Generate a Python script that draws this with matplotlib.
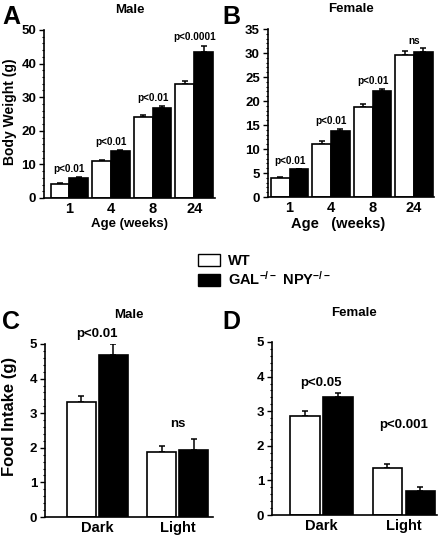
import matplotlib
matplotlib.use("Agg")
import matplotlib.pyplot as plt
from matplotlib.patches import Patch
from matplotlib.ticker import MultipleLocator
import numpy as np

plt.rcParams['font.family'] = ['Liberation Sans', 'DejaVu Sans']
plt.rcParams['font.weight'] = 'bold'
plt.rcParams['mathtext.fontset'] = 'custom'
plt.rcParams['mathtext.rm'] = 'Liberation Sans:bold'
plt.rcParams['mathtext.bf'] = 'Liberation Sans:bold'
plt.rcParams['mathtext.default'] = 'bf'

# ---- data ----
weeks = ['1', '4', '8', '24']
male_wt = [4.1, 11.0, 24.2, 33.9]
male_wt_err = [0.3, 0.4, 0.4, 1.0]
male_ko = [6.0, 14.0, 26.8, 43.6]
male_ko_err = [0.3, 0.4, 0.7, 1.6]
male_p = ['p<0.01', 'p<0.01', 'p<0.01', 'p<0.0001']

female_wt = [3.95, 11.0, 18.7, 29.65]
female_wt_err = [0.2, 0.6, 0.7, 0.7]
female_ko = [5.75, 13.85, 22.05, 30.2]
female_ko_err = [0.1, 0.3, 0.5, 0.8]
female_p = ['p<0.01', 'p<0.01', 'p<0.01', 'ns']

periods = ['Dark', 'Light']
male_fi_wt = [3.32, 1.87]
male_fi_wt_err = [0.18, 0.17]
male_fi_ko = [4.68, 1.93]
male_fi_ko_err = [0.32, 0.31]
male_fi_p = ['p<0.01', 'ns']

female_fi_wt = [2.85, 1.36]
female_fi_wt_err = [0.17, 0.10]
female_fi_ko = [3.40, 0.70]
female_fi_ko_err = [0.12, 0.12]
female_fi_p = ['p<0.05', 'p<0.001']

legend_labels = ['WT', 'GAL$^{-/-}$ NPY$^{-/-}$']

W, H = 443, 536
fig = plt.figure(figsize=(W / 100, H / 100), dpi=100)


def ax_px(l, r, t, b):
    return fig.add_axes([l / W, 1 - b / H, (r - l) / W, (b - t) / H])


def style(ax, ylim, major, minor, tickfs, xfs):
    ax.set_ylim(*ylim)
    ax.spines['top'].set_visible(False)
    ax.spines['right'].set_visible(False)
    ax.spines['left'].set_linewidth(1.2)
    ax.spines['bottom'].set_linewidth(1.2)
    ax.yaxis.set_major_locator(MultipleLocator(major))
    ax.yaxis.set_minor_locator(MultipleLocator(minor))
    ax.tick_params(axis='y', which='major', direction='out', length=3.5, width=1,
                   labelsize=tickfs, pad=2)
    ax.tick_params(axis='y', which='minor', direction='out', length=1.8, width=0.8)
    ax.tick_params(axis='x', length=0, labelsize=xfs, pad=3)


def bars(ax, cats, wt, wte, ko, koe, width, off, labels, offs, pfs):
    x = np.arange(len(cats))
    ax.bar(x - off, wt, width, color='white', edgecolor='black', linewidth=1.2, zorder=2)
    ax.bar(x + off, ko, width, color='black', edgecolor='black', linewidth=1.2, zorder=2)
    ax.errorbar(x - off, wt, yerr=[np.zeros(len(wt)), wte], fmt='none', ecolor='black',
                elinewidth=1.1, capsize=2.2, capthick=1.1, zorder=1)
    ax.errorbar(x + off, ko, yerr=[np.zeros(len(ko)), koe], fmt='none', ecolor='black',
                elinewidth=1.1, capsize=2.2, capthick=1.1, zorder=1)
    ax.set_xticks(x)
    ax.set_xticklabels(cats, fontweight='bold')
    for i in range(len(cats)):
        top = max(wt[i] + wte[i], ko[i] + koe[i])
        ax.annotate(labels[i], xy=(x[i], top), xytext=(0, offs[i]), textcoords='offset points',
                    ha='center', va='bottom', fontsize=pfs, fontweight='bold', annotation_clip=False)


# Panel A
axA = ax_px(44, 215, 30, 198)
bars(axA, weeks, male_wt, male_wt_err, male_ko, male_ko_err, 0.45, 0.225, male_p, [2, 2, 2, 3], 7.2)
axA.set_xlim(-0.61, 3.5)
style(axA, (0, 50), 10, 2, 9.5, 10.5)
axA.set_ylabel('Body Weight (g)', fontsize=10, fontweight='bold')
axA.yaxis.set_label_coords(-0.158, 0.515)
axA.set_xlabel('Age (weeks)', fontsize=9.5, fontweight='bold', labelpad=1)
axA.set_title('Male', fontsize=9.5, fontweight='bold', pad=12)

# Panel B
axB = ax_px(267.5, 434, 29, 197)
bars(axB, weeks, female_wt, female_wt_err, female_ko, female_ko_err, 0.45, 0.225, female_p, [2, 2, 2, 1.5], 7.2)
axB.set_xlim(-0.53, 3.48)
style(axB, (0, 35), 5, 1, 9.5, 10.5)
axB.set_xlabel('Age   (weeks)', fontsize=10.5, fontweight='bold', labelpad=1)
axB.xaxis.label.set_x(0.426)
axB.set_title('Female', fontsize=9.5, fontweight='bold', pad=12)

# Panel C
axC = ax_px(45, 213, 344, 517)
bars(axC, periods, male_fi_wt, male_fi_wt_err, male_fi_ko, male_fi_ko_err, 0.36, 0.2, male_fi_p, [3, 7], 9.5)
axC.set_xlim(-0.648, 1.437)
style(axC, (0, 5), 1, 0.2, 9.5, 10.5)
axC.set_ylabel('Food Intake (g)', fontsize=12, fontweight='bold')
axC.yaxis.set_label_coords(-0.167, 0.584)
axC.set_title('Male', fontsize=9.5, fontweight='bold', pad=19)

# Panel D
axD = ax_px(271.7, 437, 342, 515)
bars(axD, periods, female_fi_wt, female_fi_wt_err, female_fi_ko, female_fi_ko_err, 0.36, 0.2, female_fi_p, [3, 24], 9.5)
axD.set_xlim(-0.60, 1.40)
style(axD, (0, 5), 1, 0.2, 9.5, 10.5)
axD.set_title('Female', fontsize=9.5, fontweight='bold', pad=19)

# Panel letters
for letter, xp, yp in [('A', 2, 5), ('B', 222, 5), ('C', 2, 310), ('D', 222, 310)]:
    fig.text(xp / W, 1 - yp / H, letter, fontsize=18, fontweight='bold', ha='left', va='top')

# Legend
handles = [Patch(facecolor='white', edgecolor='black', linewidth=1.0),
           Patch(facecolor='black', edgecolor='black', linewidth=1.0)]
fig.legend(handles, legend_labels, loc='upper left', bbox_to_anchor=(198 / W, 1 - 254 / H),
           frameon=False, handlelength=1.5, handleheight=0.9,
           handletextpad=0.55, labelspacing=0.15, borderpad=0, borderaxespad=0,
           prop={'weight': 'bold', 'size': 10.5})

fig.savefig('out.png', dpi=100)
